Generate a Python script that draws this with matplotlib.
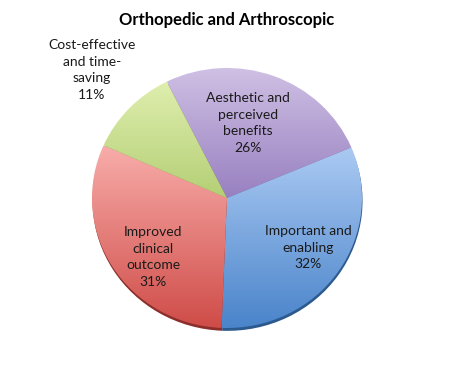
import numpy as np
import matplotlib
matplotlib.use('Agg')
import matplotlib.pyplot as plt
from matplotlib.colors import LinearSegmentedColormap

# Data (clockwise from the top)
categories = ['Aesthetic and\nperceived\nbenefits', 'Important and\nenabling',
              'Improved\nclinical\noutcome', 'Cost-effective\nand time-\nsaving']
shares = [26, 32, 31, 11]
light_colors = ['#cfc0e4', '#abcaf3', '#f8adaa', '#dfeeae']
dark_colors = ['#9880c0', '#4a84ca', '#cf4c48', '#b4cf75']
rim_colors = ['#6a5590', '#2d5a8e', '#8c2f2c', '#7d9448']

plt.rcParams['font.family'] = ['Lato', 'DejaVu Sans']

fig = plt.figure(figsize=(4.56, 3.76), dpi=100)
ax = fig.add_axes([92 / 456, 1 - 328 / 376, 270 / 456, 260 / 376])

start = 116.5

# darker rim under the pie (bevel look at the bottom edge)
ax.pie(shares, startangle=start, counterclock=False, radius=1.0,
       center=(0.004, -0.022), colors=rim_colors,
       wedgeprops=dict(linewidth=0, zorder=0))

wedges, _ = ax.pie(shares, startangle=start, counterclock=False,
                   radius=1.0, center=(0, 0), wedgeprops=dict(linewidth=0))

# vertical gradient inside each slice
for w, c0, c1 in zip(wedges, light_colors, dark_colors):
    w.set_facecolor('none')
    ext = w.get_path().get_extents(w.get_patch_transform())
    cmap = LinearSegmentedColormap.from_list('g', [c1, c0])
    grad = np.linspace(0, 1, 256).reshape(-1, 1)
    im = ax.imshow(grad, cmap=cmap, origin='lower', aspect='auto',
                   extent=[ext.x0, ext.x1, ext.y0, ext.y1], zorder=1)
    im.set_clip_path(w)

ax.set_aspect('auto')
ax.set_xlim(-1, 1)
ax.set_ylim(-1, 1)
ax.axis('off')

# labels (pixel positions of the block centres)
label_pos = [(248, 123), (308, 248), (153, 257), (92, 70)]
for name, val, (px, py) in zip(categories, shares, label_pos):
    fig.text(px / 456, 1 - py / 376, f'{name}\n{val}%', ha='center', va='center',
             fontsize=10, linespacing=1.45, color='#1a1a1a')

fig.text(227 / 456, 1 - 20 / 376, 'Orthopedic and Arthroscopic', ha='center',
         va='center', fontsize=12, fontweight='bold')

fig.savefig('out.png', dpi=100)
